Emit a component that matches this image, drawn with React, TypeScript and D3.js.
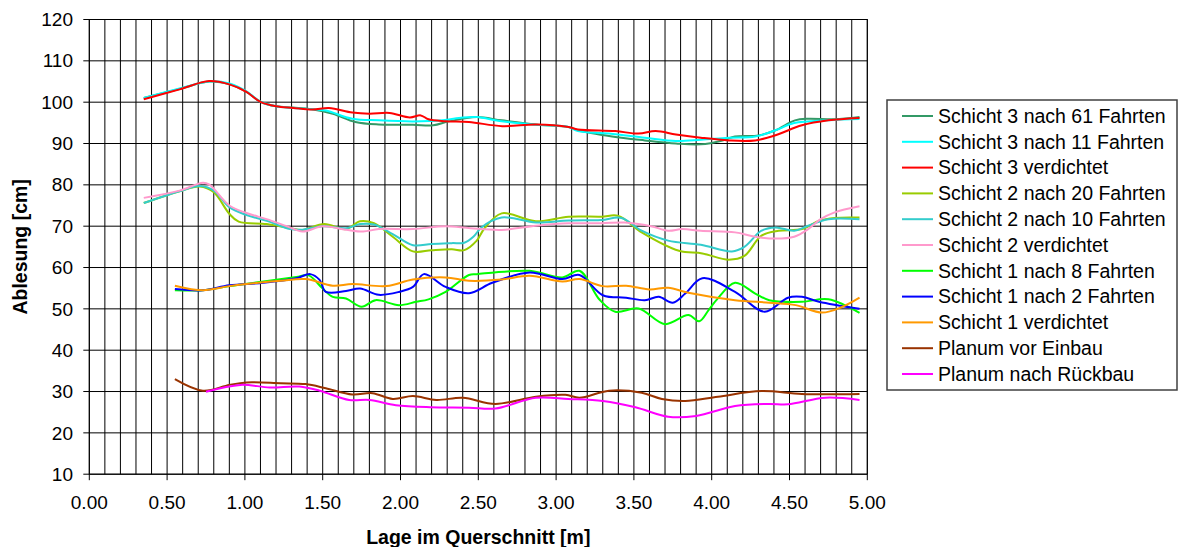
import React from "react";
import * as d3 from "d3";

type P = [number, number];

const seriesNames = [
  "Schicht 3 nach 61 Fahrten",
  "Schicht 3 nach 11 Fahrten",
  "Schicht 3 verdichtet",
  "Schicht 2 nach 20 Fahrten",
  "Schicht 2 nach 10 Fahrten",
  "Schicht 2 verdichtet",
  "Schicht 1 nach 8 Fahrten",
  "Schicht 1 nach 2 Fahrten",
  "Schicht 1 verdichtet",
  "Planum vor Einbau",
  "Planum nach Rückbau",
];

const seriesColors = [
  "#339966", "#00FFFF", "#FF0000", "#99CC00", "#33CCCC", "#FF99CC",
  "#00FF00", "#0000FF", "#FF9900", "#993300", "#FF00FF",
];

const s3n61: P[] = [[0.35,101.0],[0.58,103.2],[0.77,105.0],[0.90,104.4],[1.01,102.5],[1.10,100.1],[1.20,99.0],[1.31,98.7],[1.43,98.3],[1.565,97.2],[1.71,95.2],[1.86,94.6],[2.08,94.55],[2.21,94.4],[2.31,95.35],[2.49,96.4],[2.65,95.6],[2.87,94.6],[3.08,94.0],[3.14,93.2],[3.36,91.7],[3.57,90.75],[3.77,90.0],[3.93,89.8],[4.07,90.75],[4.15,91.7],[4.30,91.95],[4.41,93.2],[4.535,95.6],[4.62,96.0],[4.79,95.85],[4.95,96.4]];
const s3n11: P[] = [[0.35,101.0],[0.58,103.3],[0.77,105.0],[0.90,104.5],[1.01,102.6],[1.10,100.1],[1.20,99.0],[1.31,98.6],[1.43,98.3],[1.52,98.0],[1.69,96.0],[1.86,95.6],[2.08,95.35],[2.27,95.6],[2.40,96.3],[2.49,96.4],[2.65,95.4],[2.87,94.55],[3.08,94.0],[3.14,93.0],[3.34,92.4],[3.57,91.4],[3.77,90.6],[3.93,90.9],[4.11,91.4],[4.28,91.7],[4.41,93.2],[4.53,94.95],[4.75,95.6],[4.95,95.9]];
const s3v: P[] = [[0.35,100.7],[0.58,103.1],[0.77,105.1],[0.90,104.3],[1.01,102.5],[1.10,100.05],[1.20,99.0],[1.31,98.6],[1.435,98.2],[1.54,98.6],[1.69,97.5],[1.80,97.2],[1.93,97.4],[2.06,96.3],[2.13,96.8],[2.18,95.85],[2.29,95.4],[2.44,95.2],[2.654,94.2],[2.87,94.6],[3.08,94.0],[3.14,93.4],[3.38,93.0],[3.53,92.4],[3.64,93.0],[3.77,92.2],[3.93,91.4],[4.11,90.75],[4.28,90.75],[4.41,92.0],[4.58,94.4],[4.75,95.6],[4.95,96.2]];
const s2n20: P[] = [[0.35,75.6],[0.58,78.45],[0.71,79.6],[0.80,78.2],[0.90,73.0],[0.96,71.1],[1.14,70.5],[1.29,69.5],[1.37,69.1],[1.51,70.5],[1.65,69.3],[1.74,71.2],[1.83,70.7],[1.95,67.45],[2.08,63.9],[2.20,64.2],[2.33,64.4],[2.41,64.2],[2.49,66.5],[2.54,69.5],[2.65,73.1],[2.87,71.2],[3.08,72.3],[3.29,72.3],[3.40,72.5],[3.55,68.5],[3.79,64.05],[3.94,63.4],[4.11,61.9],[4.21,62.8],[4.32,67.7],[4.43,68.9],[4.58,69.3],[4.69,71.3],[4.79,72.0],[4.95,72.1]];
const s2n10: P[] = [[0.35,75.6],[0.58,78.45],[0.71,79.7],[0.80,78.6],[0.90,74.6],[1.01,72.7],[1.14,71.3],[1.29,69.3],[1.37,69.15],[1.50,70.0],[1.65,69.5],[1.74,70.5],[1.83,70.4],[1.95,68.1],[2.08,65.4],[2.20,65.7],[2.33,65.9],[2.41,66.0],[2.47,67.5],[2.52,69.7],[2.65,72.1],[2.87,70.9],[3.08,71.35],[3.29,71.5],[3.42,72.0],[3.55,68.9],[3.72,66.5],[3.93,65.5],[4.13,63.9],[4.21,65.0],[4.32,68.9],[4.41,69.7],[4.53,68.9],[4.62,70.1],[4.75,71.7],[4.95,71.7]];
const s2v: P[] = [[0.35,76.85],[0.58,78.6],[0.73,80.5],[0.77,80.1],[0.90,75.0],[1.01,73.2],[1.14,71.7],[1.27,70.0],[1.37,68.7],[1.50,70.0],[1.65,69.15],[1.76,68.7],[1.86,69.3],[2.08,69.3],[2.29,70.0],[2.45,69.5],[2.65,69.1],[2.87,70.1],[3.08,70.7],[3.29,70.7],[3.44,70.9],[3.61,70.0],[3.72,68.9],[3.81,69.3],[3.93,68.9],[4.15,68.5],[4.28,67.45],[4.41,67.0],[4.53,67.45],[4.62,69.3],[4.70,71.7],[4.79,73.35],[4.95,74.8]];
const s1n8: P[] = [[0.55,54.5],[0.73,54.5],[0.90,55.5],[1.12,56.6],[1.33,57.7],[1.41,58.1],[1.50,54.9],[1.565,52.9],[1.65,52.5],[1.75,50.5],[1.84,52.1],[1.99,50.9],[2.10,51.7],[2.18,52.3],[2.29,54.1],[2.44,58.2],[2.49,58.4],[2.83,59.2],[3.04,57.6],[3.15,59.2],[3.28,52.2],[3.38,49.3],[3.53,50.1],[3.70,46.3],[3.85,48.5],[3.92,47.0],[3.98,49.7],[4.03,52.1],[4.15,56.3],[4.28,53.7],[4.37,52.1],[4.58,51.7],[4.75,52.3],[4.95,49.0]];
const s1n2: P[] = [[0.55,54.8],[0.73,54.5],[0.90,55.7],[1.12,56.3],[1.33,57.4],[1.42,58.4],[1.48,57.0],[1.52,54.1],[1.65,54.3],[1.74,54.9],[1.86,53.4],[1.99,54.1],[2.08,55.3],[2.15,58.4],[2.29,55.3],[2.44,53.8],[2.59,56.3],[2.83,58.8],[3.04,57.2],[3.15,58.2],[3.30,53.3],[3.45,52.7],[3.57,52.1],[3.66,52.9],[3.75,51.5],[3.83,53.7],[3.94,57.4],[4.15,54.1],[4.34,49.3],[4.49,52.7],[4.58,52.9],[4.69,51.7],[4.95,50.0]];
const s1v: P[] = [[0.55,55.6],[0.73,54.5],[0.90,55.5],[1.01,56.0],[1.23,56.8],[1.39,57.2],[1.565,55.6],[1.69,56.0],[1.91,55.5],[2.08,57.1],[2.29,57.6],[2.44,56.8],[2.65,57.1],[2.83,58.0],[3.04,56.6],[3.15,57.2],[3.30,55.5],[3.45,55.6],[3.60,54.7],[3.72,55.1],[3.85,53.9],[4.15,52.1],[4.37,51.5],[4.54,50.9],[4.71,49.1],[4.84,50.5],[4.95,52.7]];
const planumVor: P[] = [[0.55,33.0],[0.73,30.2],[0.90,31.6],[1.01,32.2],[1.23,32.0],[1.39,31.8],[1.52,30.8],[1.69,29.3],[1.82,29.6],[1.95,28.2],[2.08,28.9],[2.23,27.95],[2.40,28.5],[2.61,27.0],[2.87,28.75],[3.06,29.2],[3.15,28.5],[3.34,30.2],[3.55,29.7],[3.68,28.2],[3.83,27.7],[4.04,28.75],[4.32,30.1],[4.58,29.4],[4.95,29.4]];
const planumNach: P[] = [[0.75,29.95],[0.97,31.6],[1.16,31.0],[1.35,31.2],[1.48,30.2],[1.67,27.95],[1.80,27.95],[1.97,26.7],[2.19,26.2],[2.44,26.1],[2.61,25.9],[2.87,28.5],[3.08,28.2],[3.30,27.7],[3.51,26.2],[3.72,23.9],[3.90,24.1],[4.15,26.5],[4.37,27.0],[4.49,26.9],[4.73,28.5],[4.95,27.95]];

const seriesData: P[][] = [s3n61, s3n11, s3v, s2n20, s2n10, s2v, s1n8, s1n2, s1v, planumVor, planumNach];

const xTicks = [0, 0.5, 1, 1.5, 2, 2.5, 3, 3.5, 4, 4.5, 5];
const yTicks = [10, 20, 30, 40, 50, 60, 70, 80, 90, 100, 110, 120];
const xTitle = "Lage im Querschnitt [m]";
const yTitle = "Ablesung [cm]";

const W = 1179, H = 547;
const L = 89.3, R = 867.3, T = 19.5, B = 474.2;
const FONT = "'Liberation Sans', Arial, sans-serif";

export default function App() {
  const x = d3.scaleLinear().domain([0, 5]).range([L, R]);
  const y = d3.scaleLinear().domain([10, 120]).range([B, T]);
  const minor = d3.range(0, 51).map((i) => i / 10);
  const line = d3
    .line<P>()
    .x((d) => x(d[0]))
    .y((d) => y(d[1]))
    .curve(d3.curveCatmullRom.alpha(0.5));

  const legX = 887, legY = 100, legW = 290, legH = 290;
  const rowY0 = 116, rowStep = 25.8;

  return (
    <svg width={W} height={H} style={{ position: "absolute", left: 0, top: 0, background: "#fff" }}>
      <rect x={0} y={0} width={W} height={H} fill="#fff" />
      {minor.map((v) => (
        <line key={"vx" + v} x1={x(v)} x2={x(v)} y1={T} y2={B} stroke="#000" strokeWidth={1} />
      ))}
      {yTicks.map((v) => (
        <line key={"hy" + v} x1={L} x2={R} y1={y(v)} y2={y(v)} stroke="#000" strokeWidth={1} />
      ))}
      <rect x={L} y={T} width={R - L} height={B - T} fill="none" stroke="#000" strokeWidth={1} />
      {yTicks.map((v) => (
        <g key={"yt" + v}>
          <line x1={L - 6} x2={L} y1={y(v)} y2={y(v)} stroke="#000" />
          <text x={73} y={y(v)} dy="0.35em" textAnchor="end" fontFamily={FONT} fontSize={19}>
            {v}
          </text>
        </g>
      ))}
      {xTicks.map((v) => (
        <g key={"xt" + v}>
          <line x1={x(v)} x2={x(v)} y1={B} y2={B + 6} stroke="#000" />
          <text x={x(v)} y={502} dy="0.35em" textAnchor="middle" fontFamily={FONT} fontSize={19}>
            {v.toFixed(2)}
          </text>
        </g>
      ))}
      {seriesData.map((d, i) => (
        <path key={"s" + i} d={line(d) || ""} fill="none" stroke={seriesColors[i]} strokeWidth={2} />
      ))}
      <text x={(L + R) / 2} y={537} dy="0.35em" textAnchor="middle" fontFamily={FONT} fontSize={19.5} fontWeight="bold">
        {xTitle}
      </text>
      <text
        transform={`translate(20,${(T + B) / 2}) rotate(-90)`}
        textAnchor="middle"
        dy="0.35em"
        fontFamily={FONT}
        fontSize={19.5}
        fontWeight="bold"
      >
        {yTitle}
      </text>
      <rect x={legX} y={legY} width={legW} height={legH} fill="#fff" stroke="#404040" strokeWidth={1.5} />
      {seriesNames.map((n, i) => (
        <g key={"lg" + i}>
          <line x1={902} x2={933} y1={rowY0 + i * rowStep} y2={rowY0 + i * rowStep} stroke={seriesColors[i]} strokeWidth={2} />
          <text x={938} y={rowY0 + i * rowStep} dy="0.35em" fontFamily={FONT} fontSize={19.5}>
            {n}
          </text>
        </g>
      ))}
    </svg>
  );
}
